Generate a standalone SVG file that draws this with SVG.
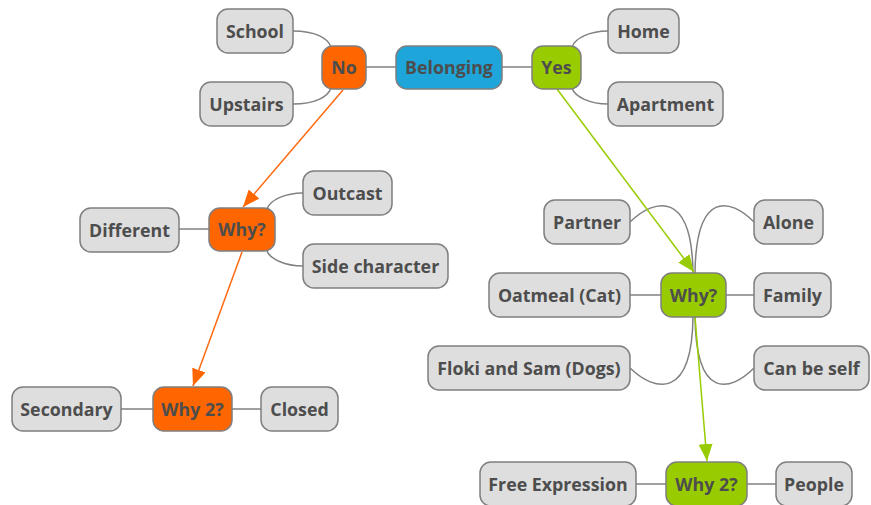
<svg xmlns="http://www.w3.org/2000/svg" width="871" height="505" viewBox="0 0 871 505">
<defs>
<style>
.n rect{stroke:#7f7f7f;stroke-width:1.5}
.g rect{fill:#dedede}
.o rect{fill:#ff6600}
.gr rect{fill:#99cc00}
.b rect{fill:#1ea5d9}
text{font-family:"Open Sans","Noto Sans","DejaVu Sans",sans-serif;font-weight:bold;font-size:17.8px;fill:#4d4d4d;text-anchor:middle}
.c path,.c line{fill:none;stroke:#808080;stroke-width:1.5}
.c .ao{stroke:#ff6a10;stroke-width:1.5}
.c .ag{stroke:#99cc00;stroke-width:1.5}
</style>
<marker id="mo" markerUnits="userSpaceOnUse" markerWidth="18" markerHeight="14" refX="17" refY="7" orient="auto"><path d="M0,0 L17,7 L0,14 z" fill="#ff6600"/></marker>
<marker id="mg" markerUnits="userSpaceOnUse" markerWidth="18" markerHeight="14" refX="17" refY="7" orient="auto"><path d="M0,0 L17,7 L0,14 z" fill="#99cc00"/></marker>
</defs>
<g id="connectors" class="c">
<line x1="366" y1="67" x2="396" y2="67"/>
<line x1="502" y1="67" x2="532" y2="67"/>
<path d="M293,31 C315,31 328,38 331,47"/>
<path d="M293,104 C315,104 328,97 331,88"/>
<path d="M572,47 C575,38 590,31 608,31"/>
<path d="M572,88 C575,97 590,104 608,104"/>
<line x1="179" y1="229" x2="209" y2="229"/>
<path d="M267,209 C270,200 285,193 303,193"/>
<path d="M267,251 C270,259 285,266 303,266"/>
<line x1="630" y1="295" x2="661" y2="295"/>
<line x1="726" y1="295" x2="754" y2="295"/>
<path d="M630,222 C655,198 692,190 693,273"/>
<path d="M754,222 C730,198 696,190 695,273"/>
<path d="M630,368 C655,392 692,400 693,317"/>
<path d="M754,368 C730,392 696,400 695,317"/>
<line x1="121" y1="409" x2="153" y2="409"/>
<line x1="232" y1="409" x2="261" y2="409"/>
<line x1="636" y1="484" x2="666" y2="484"/>
<line x1="747" y1="484" x2="776" y2="484"/>
<line class="ao" x1="343" y1="90" x2="243" y2="207" marker-end="url(#mo)"/>
<line class="ao" x1="242" y1="252" x2="193" y2="386" marker-end="url(#mo)"/>
<line class="ag" x1="557" y1="89" x2="694" y2="272" marker-end="url(#mg)"/>
<line class="ag" x1="695" y1="317" x2="707" y2="461" marker-end="url(#mg)"/>
</g>
<g id="belonging" class="n b"><rect x="396" y="46" width="106" height="43" rx="11"/><text x="449" y="73.5">Belonging</text></g>
<g id="no" class="n o"><rect x="322" y="46" width="44" height="43" rx="11"/><text x="344" y="73.5">No</text></g>
<g id="yes" class="n gr"><rect x="532" y="46" width="49" height="43" rx="11"/><text x="556.5" y="73.5">Yes</text></g>
<g id="school" class="n g"><rect x="217" y="9" width="76" height="44" rx="11"/><text x="255" y="37.5">School</text></g>
<g id="upstairs" class="n g"><rect x="200" y="82" width="93" height="44" rx="11"/><text x="246.5" y="110.5">Upstairs</text></g>
<g id="home" class="n g"><rect x="608" y="9" width="71" height="44" rx="11"/><text x="643.5" y="37.5">Home</text></g>
<g id="apartment" class="n g"><rect x="608" y="82" width="115" height="44" rx="11"/><text x="665.5" y="110.5">Apartment</text></g>
<g id="why-no" class="n o"><rect x="209" y="208" width="66" height="43" rx="11"/><text x="242" y="235.5">Why?</text></g>
<g id="different" class="n g"><rect x="80" y="208" width="99" height="44" rx="11"/><text x="129.5" y="236.5">Different</text></g>
<g id="outcast" class="n g"><rect x="303" y="171" width="89" height="44" rx="11"/><text x="347.5" y="199.5">Outcast</text></g>
<g id="side" class="n g"><rect x="303" y="244" width="145" height="44" rx="11"/><text x="375.5" y="272.5">Side character</text></g>
<g id="why2-no" class="n o"><rect x="153" y="387" width="79" height="44" rx="11"/><text x="192.5" y="415.5">Why 2?</text></g>
<g id="secondary" class="n g"><rect x="12" y="387" width="109" height="44" rx="11"/><text x="66.5" y="415.5">Secondary</text></g>
<g id="closed" class="n g"><rect x="261" y="387" width="77" height="44" rx="11"/><text x="299.5" y="415.5">Closed</text></g>
<g id="why-yes" class="n gr"><rect x="661" y="273" width="65" height="44" rx="11"/><text x="693.5" y="301.5">Why?</text></g>
<g id="partner" class="n g"><rect x="544" y="200" width="86" height="44" rx="11"/><text x="587" y="228.5">Partner</text></g>
<g id="alone" class="n g"><rect x="754" y="200" width="69" height="44" rx="11"/><text x="788.5" y="228.5">Alone</text></g>
<g id="oatmeal" class="n g"><rect x="489" y="273" width="141" height="44" rx="11"/><text x="559.5" y="301.5">Oatmeal (Cat)</text></g>
<g id="family" class="n g"><rect x="754" y="273" width="77" height="44" rx="11"/><text x="792.5" y="301.5">Family</text></g>
<g id="floki" class="n g"><rect x="428" y="346" width="202" height="44" rx="11"/><text x="529" y="374.5">Floki and Sam (Dogs)</text></g>
<g id="canbeself" class="n g"><rect x="754" y="346" width="115" height="44" rx="11"/><text x="811.5" y="374.5">Can be self</text></g>
<g id="why2-yes" class="n gr"><rect x="666" y="462" width="81" height="44" rx="11"/><text x="706.5" y="490.5">Why 2?</text></g>
<g id="free" class="n g"><rect x="480" y="462" width="156" height="44" rx="11"/><text x="558" y="490.5">Free Expression</text></g>
<g id="people" class="n g"><rect x="776" y="462" width="76" height="44" rx="11"/><text x="814" y="490.5">People</text></g>
</svg>
